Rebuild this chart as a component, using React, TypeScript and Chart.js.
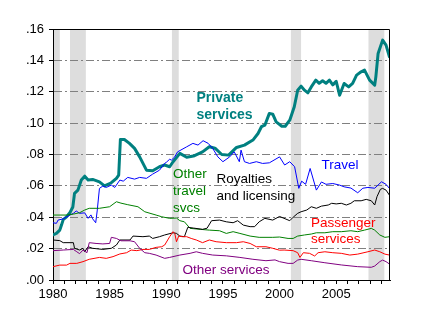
import React, { useEffect, useRef } from 'react';
import { Chart, registerables } from 'chart.js';

Chart.register(...registerables);

// ---- Data ----
const privateYears = [1980.0, 1980.3, 1980.6, 1980.75, 1980.9, 1981.2, 1981.5, 1981.75, 1981.9, 1982.2, 1982.5, 1982.8, 1983.1, 1983.5, 1984.1, 1984.55, 1985.15, 1985.6, 1985.8, 1985.95, 1986.3, 1986.75, 1987.2, 1987.65, 1988.25, 1988.8, 1989.4, 1989.85, 1990.3, 1990.6, 1991.2, 1991.8, 1992.4, 1993.2, 1993.8, 1994.3, 1994.9, 1995.5, 1996.2, 1996.9, 1997.65, 1998.1, 1998.4, 1998.7, 1999.1, 1999.4, 1999.7, 2000.2, 2000.5, 2000.9, 2001.3, 2001.6, 2001.9, 2002.2, 2002.5, 2002.8, 2003.2, 2003.5, 2003.8, 2004.1, 2004.4, 2004.7, 2005.0, 2005.3, 2005.7, 2006.1, 2006.45, 2006.8, 2007.2, 2007.5, 2007.95, 2008.4, 2008.5, 2008.7, 2009.1, 2009.4, 2009.7];
const privateValues = [0.0288, 0.0297, 0.0318, 0.035, 0.0385, 0.0403, 0.043, 0.0465, 0.0552, 0.0573, 0.0637, 0.0662, 0.0637, 0.0641, 0.0626, 0.06, 0.062, 0.0648, 0.0669, 0.0896, 0.0896, 0.0871, 0.0839, 0.0785, 0.07, 0.0696, 0.0722, 0.0733, 0.0722, 0.0754, 0.0807, 0.0782, 0.079, 0.0817, 0.0849, 0.084, 0.08, 0.0796, 0.0845, 0.086, 0.0892, 0.0934, 0.0977, 0.0987, 0.1062, 0.1057, 0.1008, 0.098, 0.098, 0.1019, 0.1104, 0.121, 0.1236, 0.121, 0.1193, 0.1231, 0.1274, 0.1254, 0.127, 0.1254, 0.1274, 0.1244, 0.1267, 0.1178, 0.1253, 0.1231, 0.1253, 0.1306, 0.1327, 0.1338, 0.1274, 0.1242, 0.1295, 0.1444, 0.1529, 0.1497, 0.1423];

const travelYears = [1980.0, 1980.3, 1980.45, 1980.9, 1981.5, 1981.8, 1982.05, 1982.35, 1982.8, 1983.1, 1983.35, 1983.5, 1983.77, 1983.9, 1984.1, 1984.4, 1984.7, 1985.15, 1985.45, 1985.9, 1986.2, 1986.6, 1987.2, 1987.65, 1988.25, 1988.8, 1989.4, 1989.85, 1990.0, 1990.3, 1990.45, 1990.75, 1991.0, 1991.8, 1992.35, 1992.8, 1993.25, 1993.7, 1994.1, 1994.55, 1995.0, 1995.6, 1996.0, 1996.45, 1996.6, 1996.9, 1997.35, 1997.95, 1998.5, 1999.1, 1999.6, 2000.0, 2000.45, 2000.9, 2001.33, 2001.7, 2001.95, 2002.3, 2002.7, 2003.25, 2003.7, 2004.1, 2004.7, 2005.3, 2005.7, 2006.3, 2006.9, 2007.35, 2007.8, 2008.4, 2009.0, 2009.4, 2009.7];
const travelValues = [0.0365, 0.0361, 0.0382, 0.039, 0.0414, 0.0425, 0.044, 0.0425, 0.0428, 0.0393, 0.0415, 0.039, 0.0365, 0.044, 0.0584, 0.0599, 0.059, 0.0605, 0.059, 0.0637, 0.063, 0.0654, 0.0643, 0.0654, 0.0648, 0.0675, 0.07, 0.0743, 0.075, 0.077, 0.0764, 0.0785, 0.0817, 0.0849, 0.0871, 0.086, 0.0888, 0.0871, 0.0839, 0.0785, 0.0754, 0.0785, 0.0817, 0.0754, 0.0828, 0.0754, 0.0743, 0.0754, 0.0743, 0.0747, 0.0768, 0.0785, 0.0733, 0.0754, 0.0722, 0.0584, 0.063, 0.061, 0.0711, 0.0573, 0.0625, 0.061, 0.0615, 0.0605, 0.0594, 0.0586, 0.0556, 0.0585, 0.059, 0.0585, 0.0626, 0.061, 0.0584];

const otherTravelYears = [1980.0, 1981.2, 1981.8, 1982.35, 1982.8, 1983.2, 1984.1, 1985.0, 1985.6, 1986.0, 1986.6, 1987.5, 1988.1, 1989.1, 1989.6, 1990.3, 1990.9, 1991.2, 1991.6, 1992.1, 1993.0, 1993.8, 1994.7, 1995.3, 1995.9, 1996.5, 1997.4, 1998.2, 1999.4, 2000.0, 2000.75, 2001.2, 2001.6, 2002.2, 2002.8, 2003.25, 2004.0, 2004.7, 2005.45, 2006.3, 2006.9, 2007.5, 2008.1, 2008.4, 2008.85, 2009.3, 2009.7];
const otherTravelValues = [0.0414, 0.0414, 0.042, 0.0429, 0.0446, 0.0457, 0.0457, 0.0467, 0.0499, 0.049, 0.048, 0.0467, 0.0435, 0.0414, 0.0403, 0.0393, 0.0395, 0.0378, 0.0371, 0.0329, 0.0323, 0.0318, 0.0314, 0.0297, 0.0308, 0.0297, 0.028, 0.0272, 0.0272, 0.0274, 0.0265, 0.0265, 0.028, 0.0287, 0.0293, 0.0301, 0.0301, 0.0308, 0.0308, 0.0314, 0.0308, 0.0318, 0.0329, 0.0318, 0.0287, 0.0272, 0.0276];

const royaltiesYears = [1980.0, 1980.6, 1980.9, 1981.8, 1981.9, 1982.35, 1982.65, 1982.8, 1983.1, 1983.5, 1984.4, 1985.15, 1985.6, 1985.9, 1986.8, 1987.06, 1987.94, 1988.5, 1988.8, 1989.4, 1989.86, 1990.6, 1990.9, 1991.2, 1991.6, 1991.9, 1992.4, 1993.2, 1993.6, 1994.0, 1994.7, 1995.3, 1995.9, 1996.3, 1996.8, 1997.4, 1997.8, 1998.2, 1998.7, 1999.4, 2000.0, 2000.9, 2001.2, 2001.6, 2001.9, 2002.4, 2002.8, 2003.25, 2003.7, 2004.3, 2004.6, 2005.0, 2005.45, 2005.9, 2006.3, 2006.6, 2007.2, 2007.65, 2008.1, 2008.4, 2008.6, 2008.9, 2009.1, 2009.4, 2009.7];
const royaltiesValues = [0.0255, 0.0251, 0.0238, 0.0238, 0.0202, 0.0191, 0.0202, 0.018, 0.0212, 0.0202, 0.0195, 0.0202, 0.0223, 0.0255, 0.0255, 0.028, 0.0276, 0.028, 0.0265, 0.0276, 0.0287, 0.0301, 0.0297, 0.028, 0.0276, 0.0336, 0.0331, 0.0323, 0.033, 0.0378, 0.0382, 0.0371, 0.0365, 0.0378, 0.035, 0.034, 0.034, 0.0371, 0.0393, 0.0382, 0.0405, 0.0378, 0.04, 0.0425, 0.0435, 0.0446, 0.0467, 0.0457, 0.0471, 0.0478, 0.0489, 0.0485, 0.0489, 0.0478, 0.0489, 0.0505, 0.0505, 0.0514, 0.0505, 0.0478, 0.0531, 0.0578, 0.0584, 0.0573, 0.0541];

const passengerYears = [1980.0, 1980.6, 1981.2, 1981.5, 1982.1, 1982.65, 1983.2, 1984.1, 1984.7, 1985.3, 1985.9, 1986.5, 1986.9, 1987.4, 1987.94, 1988.5, 1989.1, 1989.6, 1989.86, 1990.3, 1990.6, 1990.75, 1990.9, 1991.1, 1991.4, 1991.8, 1992.2, 1992.65, 1993.2, 1993.8, 1994.4, 1995.3, 1996.2, 1996.8, 1997.4, 1997.95, 1998.8, 1999.4, 2000.0, 2000.4, 2001.2, 2001.6, 2001.8, 2002.1, 2002.65, 2003.1, 2003.4, 2004.0, 2004.7, 2005.45, 2006.2, 2006.9, 2007.8, 2008.4, 2008.85, 2009.3, 2009.7];
const passengerValues = [0.0085, 0.0095, 0.0095, 0.0106, 0.0106, 0.0117, 0.0132, 0.0144, 0.0138, 0.0149, 0.0166, 0.0174, 0.0191, 0.0187, 0.0195, 0.0195, 0.0208, 0.0212, 0.0223, 0.0276, 0.0308, 0.0297, 0.0244, 0.028, 0.0276, 0.0276, 0.0265, 0.0255, 0.0238, 0.0255, 0.0244, 0.0238, 0.0238, 0.0244, 0.0233, 0.0212, 0.0212, 0.0202, 0.019, 0.0191, 0.0187, 0.0174, 0.0144, 0.0174, 0.017, 0.0153, 0.0174, 0.018, 0.0174, 0.017, 0.0159, 0.0165, 0.018, 0.0191, 0.018, 0.0165, 0.0159];

const otherServicesYears = [1980.0, 1980.9, 1981.8, 1982.1, 1982.35, 1982.65, 1983.0, 1983.2, 1983.8, 1984.4, 1985.0, 1985.15, 1985.6, 1986.0, 1986.8, 1987.2, 1987.65, 1988.1, 1988.5, 1989.1, 1989.86, 1990.3, 1991.2, 1992.1, 1992.65, 1993.2, 1994.1, 1995.3, 1996.5, 1997.65, 1998.8, 1999.6, 2000.0, 2000.75, 2001.2, 2001.6, 2001.9, 2002.8, 2004.0, 2005.45, 2006.9, 2008.1, 2008.4, 2008.85, 2009.1, 2009.4, 2009.7];
const otherServicesValues = [0.0187, 0.0191, 0.0195, 0.018, 0.0168, 0.0191, 0.0174, 0.0238, 0.0233, 0.023, 0.0233, 0.0272, 0.0265, 0.025, 0.025, 0.0244, 0.0202, 0.0174, 0.017, 0.0159, 0.0138, 0.0144, 0.0159, 0.017, 0.018, 0.017, 0.0159, 0.0154, 0.0144, 0.0132, 0.0123, 0.0128, 0.0117, 0.0106, 0.0106, 0.0127, 0.0132, 0.0123, 0.011, 0.0096, 0.0085, 0.0081, 0.0089, 0.0117, 0.0127, 0.0117, 0.0102];

const recessionStarts = [1980.0, 1981.5, 1990.5, 2001.0, 2007.85];
const recessionEnds = [1980.6, 1982.9, 1991.1, 2001.9, 2009.25];

const yTickLabels = ['.00', '.02', '.04', '.06', '.08', '.10', '.12', '.14', '.16'];
const xTickLabels = ['1980', '1985', '1990', '1995', '2000', '2005'];

const FONT = '"Liberation Sans", Arial, sans-serif';

const toPoints = (xs: number[], ys: number[]) => xs.map((x, i) => ({ x, y: ys[i] }));

const recessionPlugin = {
  id: 'recessions',
  beforeDraw(chart: any) {
    const { ctx, chartArea, scales } = chart;
    const xs = scales.x;
    ctx.save();
    ctx.fillStyle = '#dddddd';
    for (let i = 0; i < recessionStarts.length; i++) {
      const a = Math.max(chartArea.left, xs.getPixelForValue(recessionStarts[i]));
      const b = Math.min(chartArea.right, xs.getPixelForValue(recessionEnds[i]));
      ctx.fillRect(a, chartArea.top, b - a, chartArea.bottom - chartArea.top);
    }
    ctx.restore();
  },
};

const labels = [
  { lines: ['Private', 'services'], x: 196.5, y: 98, lh: 17, color: '#008080', font: 'bold 14px ' + FONT },
  { lines: ['Travel'], x: 321.5, y: 165, lh: 16, color: '#0000ff', font: '13.5px ' + FONT },
  { lines: ['Other', 'travel', 'svcs'], x: 173, y: 174.5, lh: 16.7, color: '#008000', font: '13.5px ' + FONT },
  { lines: ['Royalties', 'and licensing'], x: 216.5, y: 179.5, lh: 16.7, color: '#000000', font: '13.5px ' + FONT },
  { lines: ['Passenger', 'services'], x: 311, y: 223.5, lh: 15.7, color: '#ff0000', font: '13.5px ' + FONT },
  { lines: ['Other services'], x: 182.5, y: 270, lh: 16, color: '#800080', font: '13.5px ' + FONT },
];

const framePlugin = {
  id: 'frameAndLabels',
  afterDatasetsDraw(chart: any) {
    const { ctx, chartArea } = chart;
    ctx.save();
    ctx.strokeStyle = '#000';
    ctx.lineWidth = 1;
    const t = Math.round(chartArea.top) + 0.5;
    const r = Math.round(chartArea.right) - 0.5;
    const b = Math.round(chartArea.bottom);
    const l = Math.round(chartArea.left);
    ctx.beginPath();
    ctx.moveTo(l, t);
    ctx.lineTo(r, t);
    ctx.lineTo(r, b);
    ctx.stroke();
    ctx.textBaseline = 'middle';
    ctx.textAlign = 'left';
    for (const lab of labels) {
      ctx.font = lab.font;
      ctx.fillStyle = lab.color;
      lab.lines.forEach((s, i) => ctx.fillText(s, lab.x, lab.y + i * lab.lh));
    }
    ctx.restore();
  },
};

export default function App() {
  const ref = useRef<HTMLCanvasElement | null>(null);
  useEffect(() => {
    if (!ref.current) return;
    const mk = (xs: number[], ys: number[], color: string, width: number) => ({
      data: toPoints(xs, ys),
      borderColor: color,
      backgroundColor: color,
      borderWidth: width,
      pointRadius: 0,
      tension: 0,
      fill: false,
    });
    const chart = new Chart(ref.current, {
      type: 'line',
      data: {
        datasets: [
          mk(otherServicesYears, otherServicesValues, '#800080', 1),
          mk(passengerYears, passengerValues, '#ff0000', 1),
          mk(royaltiesYears, royaltiesValues, '#000000', 1),
          mk(otherTravelYears, otherTravelValues, '#008000', 1),
          mk(travelYears, travelValues, '#0000ff', 1),
          mk(privateYears, privateValues, '#008080', 3),
        ],
      },
      options: {
        animation: false,
        responsive: true,
        maintainAspectRatio: false,
        layout: { padding: { top: 29, right: 38, left: 0, bottom: 0 } },
        plugins: { legend: { display: false }, tooltip: { enabled: false } },
        elements: { line: { borderJoinStyle: 'round', borderCapStyle: 'round' } },
        scales: {
          x: {
            type: 'linear',
            min: 1980,
            max: 2009.75,
            afterFit: (s: any) => { s.height = 45; },
            ticks: {
              stepSize: 1,
              autoSkip: false,
              includeBounds: false,
              maxRotation: 0,
              padding: 3,
              color: '#000',
              font: { family: FONT, size: 13 },
              callback: (v: any) => (xTickLabels.includes(String(v)) ? String(v) : ''),
            },
            grid: { display: true, drawOnChartArea: false, drawTicks: true, tickLength: 4, tickColor: '#000', lineWidth: 1 },
            border: { display: true, color: '#000', width: 1 },
          },
          y: {
            type: 'linear',
            min: 0,
            max: 0.16,
            afterFit: (s: any) => { s.width = 53; },
            ticks: {
              stepSize: 0.02,
              padding: 5,
              color: '#000',
              font: { family: FONT, size: 13 },
              callback: (v: any) => yTickLabels[Math.round(Number(v) / 0.02)] ?? '',
            },
            grid: { display: true, drawOnChartArea: true, drawTicks: true, tickLength: 4, tickColor: '#000', color: '#808080', lineWidth: 1 },
            border: { display: true, color: '#000', width: 1, dash: [8, 3, 2, 3] },
          },
        },
      },
      plugins: [recessionPlugin, framePlugin],
    });
    return () => chart.destroy();
  }, []);
  return (
    <div style={{ position: 'absolute', left: 0, top: 0, width: 428, height: 325, background: '#fff' }}>
      <canvas ref={ref} />
    </div>
  );
}
